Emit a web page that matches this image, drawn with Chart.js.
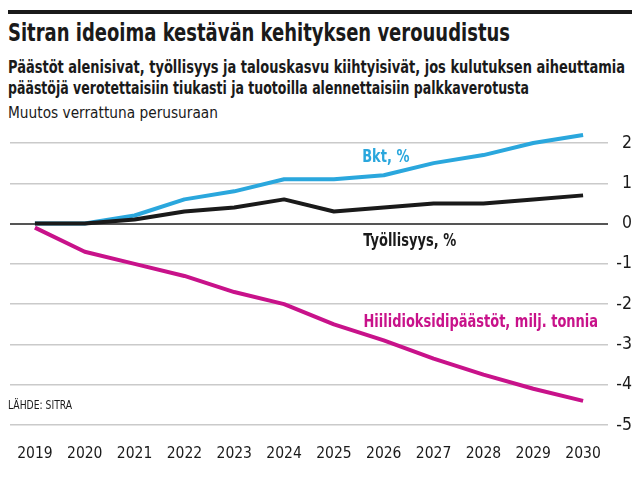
<!DOCTYPE html>
<html>
<head>
<meta charset="utf-8">
<script src="https://cdn.jsdelivr.net/npm/chart.js@4/dist/chart.umd.min.js"></script>
<style>
  body { margin: 0; width: 640px; height: 480px; background: #fff; overflow: hidden;
         font-family: "DejaVu Sans Condensed", "Roboto", sans-serif; color: #1a1a1a; }
  #rule { position: absolute; left: 8px; top: 10px; width: 624px; height: 4px; background: #1a1a1a; }
  .txt { position: absolute; left: 8px; white-space: nowrap; transform-origin: left top; }
  #title { top: 18px; font-size: 25px; font-weight: bold; }
  #sub1 { top: 57px; font-size: 17px; font-weight: bold; }
  #sub2 { top: 78px; font-size: 17px; font-weight: bold; }
  #unit { top: 104px; font-size: 15.5px; }
  #wrap { position: absolute; left: 0; top: 0; width: 640px; height: 480px; }
</style>
</head>
<body>
<div id="rule"></div>
<div class="txt" id="title" data-w="502">Sitran ideoima kestävän kehityksen verouudistus</div>
<div class="txt" id="sub1" data-w="617">Päästöt alenisivat, työllisyys ja talouskasvu kiihtyisivät, jos kulutuksen aiheuttamia</div>
<div class="txt" id="sub2" data-w="521">päästöjä verotettaisiin tiukasti ja tuotoilla alennettaisiin palkkaverotusta</div>
<div class="txt" id="unit" data-w="210">Muutos verrattuna perusuraan</div>
<div id="wrap"><canvas id="chart" width="640" height="480"></canvas></div>
<script>
// Data
const years = ["2019", "2020", "2021", "2022", "2023", "2024", "2025", "2026", "2027", "2028", "2029", "2030"];
const bkt = [0, 0, 0.2, 0.6, 0.8, 1.1, 1.1, 1.2, 1.5, 1.7, 2.0, 2.2];
const tyollisyys = [0, 0, 0.1, 0.3, 0.4, 0.6, 0.3, 0.4, 0.5, 0.5, 0.6, 0.7];
const co2 = [-0.1, -0.7, -1.0, -1.3, -1.7, -2.0, -2.5, -2.9, -3.35, -3.75, -4.1, -4.4];

const FONT = '"DejaVu Sans Condensed", Roboto, sans-serif';

// squeeze header lines to the condensed widths of the original
document.querySelectorAll(".txt").forEach((el) => {
  const w = el.getBoundingClientRect().width;
  el.style.transform = `scaleX(${el.dataset.w / w})`;
});

// condensed text on the canvas
function squeezed(ctx, text, x, y, align, sx) {
  const w = ctx.measureText(text).width * sx;
  let left = x;
  if (align === "center") left = x - w / 2;
  if (align === "right") left = x - w;
  ctx.save();
  ctx.translate(left, y);
  ctx.scale(sx, 1);
  ctx.textAlign = "left";
  ctx.fillText(text, 0, 0);
  ctx.restore();
}

// Series labels drawn next to the lines
const labelPlugin = {
  id: "seriesLabels",
  afterDatasetsDraw(chart) {
    const { ctx, scales } = chart;
    const x = scales.x, y = scales.y;
    ctx.save();
    ctx.font = "bold 17px " + FONT;
    ctx.textBaseline = "middle";
    ctx.fillStyle = "#2aa7dd";
    squeezed(ctx, "Bkt, %", (x.getPixelForValue(6) + x.getPixelForValue(7)) / 2 + 27, y.getPixelForValue(1.65), "center", 0.85);
    ctx.fillStyle = "#1a1a1a";
    squeezed(ctx, "Työllisyys, %", x.getPixelForValue(7) + 26, y.getPixelForValue(-0.45), "center", 0.85);
    ctx.fillStyle = "#c8128a";
    squeezed(ctx, "Hiilidioksidipäästöt, milj. tonnia", x.getPixelForValue(11) + 15, y.getPixelForValue(-2.45), "right", 0.85);
    ctx.font = "12.5px " + FONT;
    ctx.fillStyle = "#1a1a1a";
    squeezed(ctx, "LÄHDE: SITRA", 8, y.getPixelForValue(-4.52), "left", 0.82);
    ctx.restore();
  }
};

new Chart(document.getElementById("chart"), {
  type: "line",
  data: {
    labels: years,
    datasets: [
      { data: tyollisyys, borderColor: "#1a1a1a", borderWidth: 4, borderJoinStyle: "round", pointRadius: 0, clip: false },
      { data: bkt, borderColor: "#2aa7dd", borderWidth: 4, borderJoinStyle: "round", pointRadius: 0, clip: false },
      { data: co2, borderColor: "#c8128a", borderWidth: 4, borderJoinStyle: "round", pointRadius: 0, clip: false },
    ],
  },
  options: {
    responsive: false,
    animation: false,
    layout: { padding: { top: 143, left: 10, right: 8, bottom: 0 } },
    plugins: { legend: { display: false }, tooltip: { enabled: false } },
    scales: {
      x: {
        offset: true,
        grid: { display: false },
        border: { display: false },
        ticks: { color: "#1a1a1a", font: { family: FONT, size: 15.5 }, padding: 12, maxRotation: 0 },
        afterFit(scale) { scale.height = 55; },
      },
      y: {
        position: "right",
        min: -5,
        max: 2,
        border: { display: false },
        grid: {
          color: (c) => (c.tick && c.tick.value === 0 ? "#555" : "#cacaca"),
          lineWidth: (c) => (c.tick && c.tick.value === 0 ? 2 : 1.5),
          drawTicks: false,
        },
        ticks: { stepSize: 1, color: "#1a1a1a", font: { family: FONT, size: 17.5 }, padding: 4, crossAlign: "far" },
        afterFit(scale) { scale.width = 24; },
      },
    },
  },
  plugins: [labelPlugin],
});
</script>
</body>
</html>
